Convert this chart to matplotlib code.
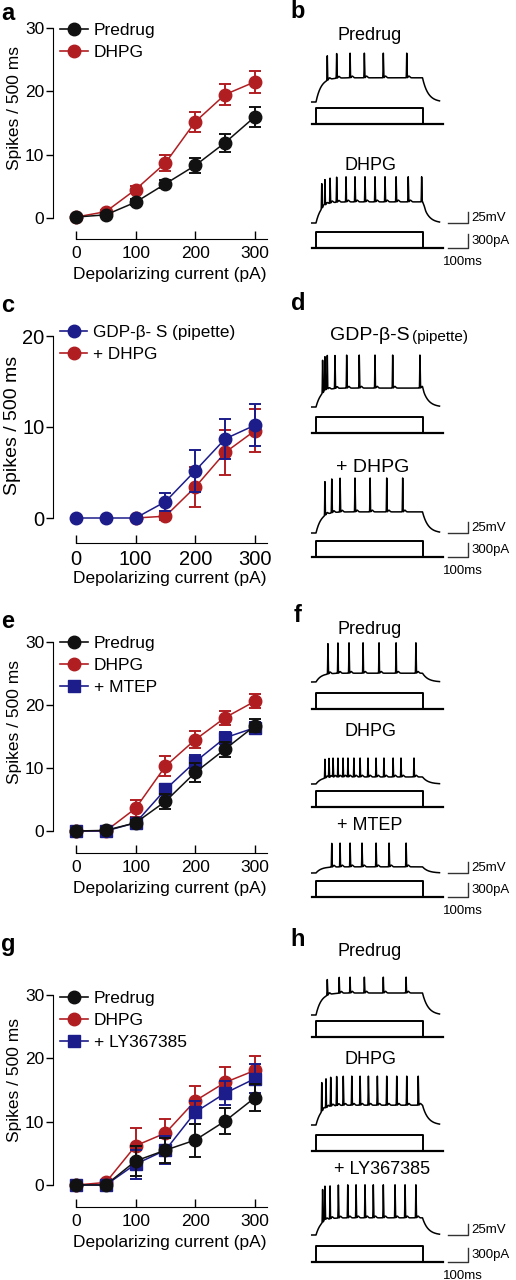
import numpy as np
import matplotlib.pyplot as plt
from matplotlib.lines import Line2D

plt.rcParams['font.family'] = ['Liberation Sans', 'DejaVu Sans']

# ---------------- data ----------------
current = [0, 50, 100, 150, 200, 250, 300]

# a
a_pre = [0.15, 0.5, 2.5, 5.4, 8.3, 11.9, 16.0]
a_pre_err = [0.2, 0.3, 0.5, 0.6, 1.2, 1.4, 1.6]
a_dhpg = [0.15, 1.0, 4.5, 8.7, 15.2, 19.5, 21.5]
a_dhpg_err = [0.2, 0.3, 0.5, 1.2, 1.55, 1.6, 1.7]

# c
c_gdp = [0, 0, 0, 1.8, 5.2, 8.7, 10.2]
c_gdp_err = [0, 0, 0, 1.0, 2.3, 2.2, 2.3]
c_dhpg = [None, None, 0, 0.2, 3.4, 7.2, 9.6]
c_dhpg_err = [0, 0, 0, 0.4, 2.2, 2.5, 2.4]

# e
e_pre = [0, 0.1, 1.3, 4.7, 9.3, 13.0, 16.7]
e_pre_err = [0, 0.2, 0.5, 1.2, 1.5, 1.2, 1.0]
e_dhpg = [0, 0, 3.6, 10.3, 14.5, 18.0, 20.6]
e_dhpg_err = [0, 0.2, 1.4, 1.6, 1.3, 1.1, 1.1]
e_mtep = [0, 0, 1.3, 6.6, 11.0, 14.8, 16.4]
e_mtep_err = [0, 0, 0.6, 0.9, 1.0, 0.9, 0.9]

# g
g_pre = [0, 0, 3.8, 5.5, 7.1, 10.1, 13.8]
g_pre_err = [0, 0.2, 2.3, 2.0, 2.6, 2.1, 2.1]
g_dhpg = [0, 0.4, 6.2, 8.2, 13.3, 16.2, 18.1]
g_dhpg_err = [0, 0.3, 2.8, 2.2, 2.3, 2.5, 2.3]
g_ly = [0, 0, 3.3, 5.5, 11.5, 14.5, 16.8]
g_ly_err = [0, 0, 2.3, 2.2, 1.8, 1.9, 2.3]

# spike times (ms after step onset) and trace amplitudes (mV above rest)
b_pre_spikes = [53, 97, 160, 227, 316, 426]
b_dhpg_spikes = [27, 42, 66, 97, 141, 183, 230, 277, 324, 376, 433, 496]
d_gdp_spikes = [31, 42, 53, 89, 144, 203, 277, 360, 488]
d_dhpg_spikes = [42, 74, 113, 183, 254, 332, 407]
f_pre_spikes = [56, 103, 155, 221, 296, 376, 469]
f_dhpg_spikes = [42, 61, 80, 103, 127, 150, 178, 207, 244, 282, 319, 362, 399, 460]
f_mtep_spikes = [74, 113, 160, 216, 282, 343, 423]
h_pre_spikes = [53, 109, 160, 227, 316, 423]
h_dhpg_spikes = [27, 47, 69, 97, 128, 168, 207, 246, 288, 332, 379, 426, 480]
h_ly_spikes = [31, 42, 66, 105, 149, 188, 230, 269, 316, 371, 418, 469]

plateaus = {'b1': 55, 'b2': 48, 'd1': 43, 'd2': 48, 'f1': 20, 'f2': 16,
            'f3': 14, 'h1': 50, 'h2': 45, 'h3': 39}
peaks = {'b1': 111, 'b2': 105, 'd1': 118, 'd2': 125, 'f1': 89, 'f2': 59,
         'f3': 68, 'h1': 86, 'h2': 111, 'h3': 114}

step_ms = 500
step_pa = 350

# ---------------- layout ----------------
W, H = 516, 1280
fig = plt.figure(figsize=(W / 100, H / 100), dpi=100)

BLACK = '#111111'
RED = '#b01e22'
BLUE = '#1c1c8a'


def fx(x):
    return x / W


def fy(y):
    return 1 - y / H


def left_axes(y0_px, top_px, ymax, xaxis_px, fs, yfs):
    ppu = (y0_px - top_px) / ymax
    ybot = -(xaxis_px - y0_px) / ppu
    ax = fig.add_axes([fx(53.3), fy(xaxis_px), fx(213.6), (xaxis_px - top_px) / H])
    ax.set_xlim(-38, 320)
    ax.set_ylim(ybot, ymax)
    ax.patch.set_alpha(0)
    for s in ['top', 'right']:
        ax.spines[s].set_visible(False)
    ax.spines['left'].set_bounds(0, ymax)
    ax.spines['bottom'].set_bounds(0, 320)
    ax.set_xticks([0, 100, 200, 300])
    ax.set_yticks(np.arange(0, ymax + 1, 10))
    ax.tick_params(axis='y', direction='out', length=5, width=1, pad=1.5, labelsize=fs)
    ax.tick_params(axis='x', direction='in', length=6, width=1, pad=5, labelsize=fs)
    ax.set_ylabel('Spikes / 500 ms', fontsize=yfs)
    ax.set_xlabel('Depolarizing current (pA)', fontsize=12.5)
    ax.xaxis.set_label_coords(fx(170), fy(xaxis_px + 28), transform=fig.transFigure)
    return ax


def series(ax, y, err, color, marker, z):
    x = [c for c, v in zip(current, y) if v is not None]
    yy = [v for v in y if v is not None]
    ee = [e for e, v in zip(err, y) if v is not None]
    cont = ax.errorbar(x, yy, yerr=ee, color=color, marker=marker, ms=9,
                       lw=1.1, elinewidth=1.4, capsize=4.5, capthick=1.4, zorder=z)
    cont[0].set_clip_on(False)
    for art in list(cont[1]) + list(cont[2]):
        art.set_clip_on(False)


def legend(ax, items, x_px, y_px, fs):
    handles = [Line2D([0], [0], color=c, marker=m, ms=9, lw=1.2) for c, m, _ in items]
    ax.legend(handles, [lab for _, _, lab in items], loc='upper left',
              bbox_to_anchor=(fx(x_px), fy(y_px)), bbox_transform=fig.transFigure,
              frameon=False, fontsize=fs, handlelength=1.6, handletextpad=0.35,
              labelspacing=0.4, borderpad=0, borderaxespad=0)


# panel a
ax = left_axes(218, 28, 30, 239, 12.5, 12.5)
series(ax, a_dhpg, a_dhpg_err, RED, 'o', 3)
series(ax, a_pre, a_pre_err, BLACK, 'o', 4)
legend(ax, [(BLACK, 'o', 'Predrug'), (RED, 'o', 'DHPG')], 60, 23, 12.5)
ax.yaxis.set_label_coords(fx(22), fy(108), transform=fig.transFigure)

# panel c
ax = left_axes(518, 336, 20, 543, 14.5, 14)
series(ax, c_dhpg, c_dhpg_err, RED, 'o', 3)
series(ax, c_gdp, c_gdp_err, BLUE, 'o', 4)
legend(ax, [(BLUE, 'o', 'GDP-β- S (pipette)'), (RED, 'o', '+ DHPG')], 60, 325, 12.3)
ax.yaxis.set_label_coords(fx(21), fy(425), transform=fig.transFigure)

# panel e
ax = left_axes(831, 642, 30, 853, 12.5, 12.5)
series(ax, e_dhpg, e_dhpg_err, RED, 'o', 3)
series(ax, e_mtep, e_mtep_err, BLUE, 's', 4)
series(ax, e_pre, e_pre_err, BLACK, 'o', 5)
legend(ax, [(BLACK, 'o', 'Predrug'), (RED, 'o', 'DHPG'), (BLUE, 's', '+ MTEP')], 60, 636, 12.5)
ax.yaxis.set_label_coords(fx(22), fy(722), transform=fig.transFigure)

# panel g
ax = left_axes(1185, 995, 30, 1207, 12.5, 12.5)
series(ax, g_dhpg, g_dhpg_err, RED, 'o', 3)
series(ax, g_ly, g_ly_err, BLUE, 's', 4)
series(ax, g_pre, g_pre_err, BLACK, 'o', 5)
legend(ax, [(BLACK, 'o', 'Predrug'), (RED, 'o', 'DHPG'), (BLUE, 's', '+ LY367385')], 60, 991, 12.5)
ax.yaxis.set_label_coords(fx(22), fy(1080), transform=fig.transFigure)

# ---------------- traces ----------------
MS_PX, MV_PX, PA_PX, T0_PX = 0.213, 0.44, 0.046, 316
T_LO, T_HI = -30, 800
V_LO, V_HI = -10, 140
I_LO, I_HI = -40, 420


def trace_axes(base_px, lo, hi, scale):
    left = T0_PX + T_LO * MS_PX
    top = base_px - hi * scale
    height = (hi - lo) * scale
    ax = fig.add_axes([fx(left), fy(top + height), fx((T_HI - T_LO) * MS_PX), height / H])
    ax.set_xlim(T_LO, T_HI)
    ax.set_ylim(lo, hi)
    ax.axis('off')
    return ax


def make_trace(t, spikes, plateau, peak):
    v = np.zeros_like(t)
    on = (t >= 0) & (t <= step_ms)
    v[on] = plateau * (1 - np.exp(-t[on] / 24))
    off = t > step_ms
    v[off] = plateau * np.exp(-(t[off] - step_ms) / 26)
    for s in spikes:
        post = t > s
        v[post] += 4 * np.exp(-((t[post] - s - 10) / 6) ** 2) - 2 * np.exp(-(t[post] - s) / 4)
    for s in spikes:
        v += (peak - plateau) * np.exp(-((t - s) / 1.3) ** 2)
    return v


def trace(base_px, stim_px, key, spikes, scalebar=False):
    t = np.arange(-20, 580, 0.25)
    axv = trace_axes(base_px, V_LO, V_HI, MV_PX)
    axv.plot(t, make_trace(t, spikes, plateaus[key], peaks[key]), color='black', lw=1.1,
             clip_on=False)
    axi = trace_axes(stim_px, I_LO, I_HI, PA_PX)
    axi.plot([-20, 595], [0, 0], color='black', lw=1.6, clip_on=False)
    axi.plot([0, 0, step_ms, step_ms], [0, step_pa, step_pa, 0],
             color='black', lw=1.4, clip_on=False)
    if scalebar:
        axv.plot([620, 715, 715], [0, 0, 25], color='#333333', lw=1, clip_on=False)
        axi.plot([620, 715, 715], [0, 0, 300], color='#333333', lw=1, clip_on=False)
        axv.text(728, 12, '25mV', fontsize=9.5, va='center', ha='left')
        axi.text(728, 150, '300pA', fontsize=9.5, va='center', ha='left')
        fig.text(fx(443), fy(stim_px + 14), '100ms', fontsize=9.5, va='center', ha='left')


def title(x, y, s, fs=13):
    fig.text(fx(x), fy(y), s, fontsize=fs, ha='center', va='center')


# b
title(370, 35, 'Predrug')
trace(102, 124, 'b1', b_pre_spikes)
title(370, 165, 'DHPG')
trace(223, 248, 'b2', b_dhpg_spikes, scalebar=True)

# d
title(370, 335, 'GDP-β-S', 14)
fig.text(fx(412), fy(337), '(pipette)', fontsize=11, ha='left', va='center')
trace(407, 433, 'd1', d_gdp_spikes)
title(373, 467, '+ DHPG', 14)
trace(533, 557, 'd2', d_dhpg_spikes, scalebar=True)

# f
title(370, 630, 'Predrug')
trace(682, 709, 'f1', f_pre_spikes)
title(370, 732, 'DHPG')
trace(784, 807, 'f2', f_dhpg_spikes)
title(370, 825, '+ MTEP')
trace(873, 897, 'f3', f_mtep_spikes, scalebar=True)

# h
title(370, 952, 'Predrug')
trace(1015, 1037, 'h1', h_pre_spikes)
title(370, 1060, 'DHPG')
trace(1125, 1151, 'h2', h_dhpg_spikes)
title(382, 1170, '+ LY367385')
trace(1235, 1262, 'h3', h_ly_spikes, scalebar=True)

# panel letters
for lab, x, y in [('a', 8, 14), ('b', 298, 12), ('c', 8, 306), ('d', 298, 304),
                  ('e', 8, 622), ('f', 298, 616), ('g', 8, 944), ('h', 298, 940)]:
    fig.text(fx(x), fy(y), lab, fontsize=17, fontweight='bold', ha='center', va='center')

fig.savefig('out.png', dpi=100)
